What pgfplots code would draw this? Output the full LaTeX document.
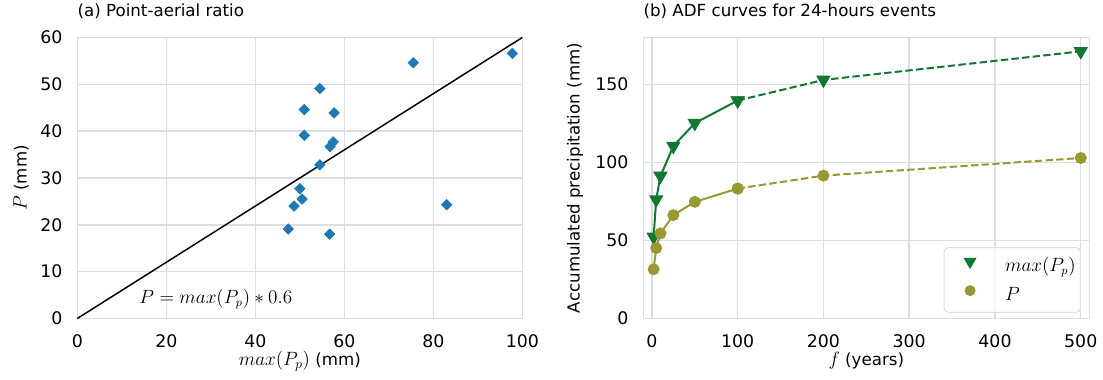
\documentclass[border=0pt]{standalone}
\usepackage{fontspec}
\setmainfont{DejaVu Sans}
\usepackage{pgfplots}
\pgfplotsset{compat=1.18}
\definecolor{gridc}{RGB}{222,222,222}
\definecolor{sblue}{HTML}{1F77B4}
\definecolor{tgreen}{HTML}{117733}
\definecolor{tolive}{HTML}{999933}
\newcommand{\bm}[1]{{\fontsize{14}{16}\selectfont$#1$}}

\pgfplotsset{
  myaxis/.style={
    scale only axis, width=333.75pt, height=210.75pt,
    axis line style={gridc, line width=1.1pt},
    grid=major, major grid style={gridc, line width=1.1pt},
    major tick length=0pt,
    tick label style={font=\fontsize{13}{15}\selectfont},
    /pgf/number format/assume math mode=true,
    xticklabel style={inner sep=0pt, anchor=north, yshift=-12pt},
    yticklabel style={inner sep=0pt, anchor=east, xshift=-11pt},
    label style={font=\fontsize{12.5}{15}\selectfont},
    title style={font=\fontsize{12.5}{15}\selectfont, at={(axis description cs:0,1)}, anchor=base west, yshift=9.75pt, inner sep=0pt},
    xlabel style={at={(axis description cs:0.5,0)}, anchor=base, yshift=-35.5pt, inner sep=0pt},
    clip=false,
  }
}

\begin{document}
\begin{tikzpicture}
\path[use as bounding box] (0pt,0pt) rectangle (827.25pt,284.25pt);

% ---------- (a) ----------
\begin{axis}[myaxis,
  at={(58pt,45.4pt)}, anchor=south west,
  xmin=0, xmax=100, ymin=0, ymax=60,
  xtick={0,20,...,100}, ytick={0,10,...,60},
  title={(a) Point-aerial ratio},
  xlabel={\bm{max(P_p)} (mm)},
  ylabel={\bm{P} (mm)},
  ylabel style={at={(axis description cs:-0.1265,0.5)}, anchor=center, inner sep=0pt},
]
\addplot[only marks, mark=square*, mark size=2.8pt, color=sblue, mark options={rotate=45, fill=sblue, draw=sblue}] coordinates {
(97.75,56.6) (75.5,54.6) (54.5,49.1) (51.0,44.6) (57.7,43.9)
(51.0,39.1) (57.5,37.7) (56.8,36.7) (54.5,32.8) (50.0,27.7)
(50.5,25.5) (48.7,24.0) (47.4,19.1) (56.7,18.0) (83.0,24.3)
};
\addplot[black, line width=1.1pt, no marks] coordinates {(0,0) (100,60)};
\node[anchor=base west, inner sep=0pt, font=\fontsize{13.5}{15}\selectfont] at (axis cs:13.9,3.1) {$P=max(P_p)*0.6$};
\end{axis}

% ---------- (b) ----------
\begin{axis}[myaxis,
  at={(482.5pt,45.4pt)}, anchor=south west, width=334.5pt,
  xmin=-10, xmax=510, ymin=0, ymax=180,
  xtick={0,100,...,500}, ytick={0,50,100,150},
  title={(b) ADF curves for 24-hours events},
  xlabel={\bm{f} (years)},
  ylabel={Accumulated precipitation (mm)},
  ylabel style={at={(axis description cs:-0.1531,0.5)}, anchor=center, inner sep=0pt},
  legend image code/.code={\path[draw=none, fill=none] (0pt,-2pt) rectangle (32pt,10pt); \draw[#1, fill opacity=1, draw opacity=1] plot coordinates {(16pt,4.5pt)};},
  legend style={at={(axis description cs:0.981,0.02)}, anchor=south east,
    draw=gridc, line width=0.8pt, rounded corners=3pt, fill=white, fill opacity=0.8, text opacity=1,
    inner xsep=3.5pt, inner ysep=5pt, row sep=5pt, column sep=10.25pt,
    font=\fontsize{13.5}{16}\selectfont,
    nodes={inner sep=0pt, text height=10pt, text depth=3.5pt}},
  legend cell align=left,
]
\addlegendimage{only marks, mark=triangle*, mark size=4.8pt, color=tgreen, mark options={rotate=180, fill=tgreen, draw=tgreen}}
\addlegendentry{$max(P_p)$}
\addlegendimage{only marks, mark=*, mark size=3.7pt, color=tolive, mark options={fill=tolive, draw=tolive}}
\addlegendentry{$P$}

\addplot[forget plot, tgreen, line width=1.5pt, mark=triangle*, mark size=4.8pt, mark options={rotate=180, solid, fill=tgreen, draw=tgreen}] coordinates {
(2,52.3) (5,76.2) (10,91.3) (25,110.4) (50,125.1) (100,139.6)
};
\addplot[forget plot, tgreen, line width=1.5pt, dash pattern=on 5.5pt off 2.5pt, mark=triangle*, mark size=4.8pt, mark options={rotate=180, solid, fill=tgreen, draw=tgreen}] coordinates {
(100,139.6) (200,152.8) (500,171.1)
};
\addplot[forget plot, tolive, line width=1.5pt, mark=*, mark size=3.7pt, mark options={solid, fill=tolive, draw=tolive}] coordinates {
(2,31.5) (5,45.1) (10,54.5) (25,66.2) (50,74.7) (100,83.2)
};
\addplot[forget plot, tolive, line width=1.5pt, dash pattern=on 5.5pt off 2.5pt, mark=*, mark size=3.7pt, mark options={solid, fill=tolive, draw=tolive}] coordinates {
(100,83.2) (200,91.5) (500,102.8)
};
\end{axis}
\end{tikzpicture}
\end{document}
